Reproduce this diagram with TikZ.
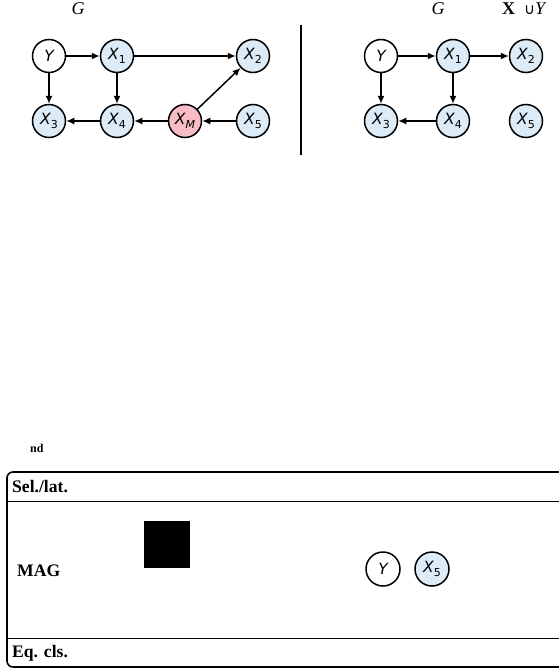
\documentclass[tikz,border=0pt]{standalone}
\usepackage{fontspec}
\setmainfont{Liberation Serif}
\newfontfamily\nodefont{DejaVu Sans}
\newfontfamily\symfont{DejaVu Sans}
\usetikzlibrary{arrows.meta}
\definecolor{nodeblue}{RGB}{221,235,247}
\definecolor{nodepink}{RGB}{248,188,198}
\newcommand{\vx}[1]{\textit{X}\raisebox{-0.28em}{\fontsize{11}{11}\selectfont\upshape #1}}
\begin{document}
\begin{tikzpicture}[x=1pt,y=-1pt,
  vnode/.style={circle,draw=black,line width=1.5pt,minimum size=33pt,inner sep=0pt,
    font=\nodefont\fontsize{15.5}{15.5}\selectfont\itshape},
  bluenode/.style={vnode,fill=nodeblue},
  whitenode/.style={vnode,fill=white},
  pinknode/.style={vnode,fill=nodepink},
  edge/.style={line width=1.5pt,-{Latex[length=8pt,width=7pt]}},
  lbl/.style={font=\fontsize{17.6}{18}\selectfont\bfseries,anchor=base west,inner sep=0pt},
  ttl/.style={font=\fontsize{18}{18}\selectfont\itshape,inner sep=0pt}]
\useasboundingbox (0,0) rectangle (558,669);
% left graph
\node[ttl] (tG1) at (78,9) {G};
\node[whitenode] (Y) at (49,56) {Y};
\node[bluenode] (X1) at (117,56) {\vx{1}};
\node[bluenode] (X2) at (253,56) {\vx{2}};
\node[bluenode] (X3) at (49,121) {\vx{3}};
\node[bluenode] (X4) at (117,121) {\vx{4}};
\node[pinknode] (XM) at (185,121) {\vx{\itshape M}};
\node[bluenode] (X5) at (253,121) {\vx{5}};
\draw[edge] (Y) -- (X1);
\draw[edge] (X1) -- (X2);
\draw[edge] (Y) -- (X3);
\draw[edge] (X1) -- (X4);
\draw[edge] (X4) -- (X3);
\draw[edge] (XM) -- (X4);
\draw[edge] (X5) -- (XM);
\draw[edge] (XM) -- (X2);
% separator
\coordinate (sepA) at (301,25);
\coordinate (sepB) at (301,155);
\draw[line width=1.4pt] (sepA) -- (sepB);
% right graph
\node[ttl] (tG2) at (438,9) {G};
\node[inner sep=0pt,anchor=base west] (tXY) at (502,15) {\fontsize{18}{18}\selectfont\textbf{X}\hspace{9pt}{\symfont\fontsize{15}{15}\selectfont ∪}\textit{Y}};
\node[whitenode] (rY) at (381,56) {Y};
\node[bluenode] (rX1) at (453,56) {\vx{1}};
\node[bluenode] (rX2) at (526,56) {\vx{2}};
\node[bluenode] (rX3) at (381,121) {\vx{3}};
\node[bluenode] (rX4) at (453,121) {\vx{4}};
\node[bluenode] (rX5) at (526,121) {\vx{5}};
\draw[edge] (rY) -- (rX1);
\draw[edge] (rX1) -- (rX2);
\draw[edge] (rY) -- (rX3);
\draw[edge] (rX1) -- (rX4);
\draw[edge] (rX4) -- (rX3);
% bottom table
\node[font=\fontsize{12}{12}\selectfont\bfseries,anchor=base west,inner sep=0pt] (nd) at (30,452.5) {nd};
\draw[line width=1.6pt,rounded corners=6pt] (575,472) -- (7,472) -- (7,667) -- (575,667);
\draw[line width=1.3pt] (7,501.5) -- (575,501.5);
\draw[line width=1.3pt] (7,638.5) -- (575,638.5);
\node[lbl] (sel) at (12,492) {Sel./lat.};
\node[lbl] (mag) at (17,576) {MAG};
\node[lbl] (eq) at (12,657) {Eq. cls.};
\fill[black] (144,521) rectangle (190,568);
\node[whitenode,minimum size=34pt] (bY) at (383,569) {Y};
\node[bluenode,minimum size=34pt] (bX5) at (432,569) {\vx{5}};
\end{tikzpicture}
\end{document}
